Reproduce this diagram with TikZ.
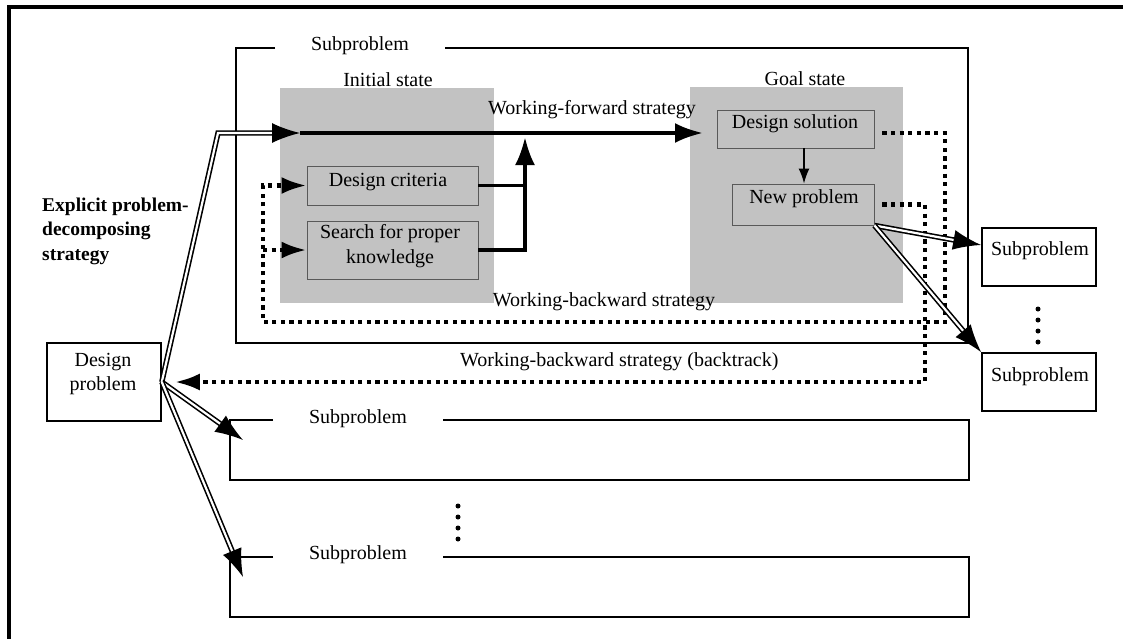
\documentclass[tikz,border=0pt]{standalone}
\usepackage{fontspec}
\setmainfont{Liberation Serif}
\usetikzlibrary{arrows.meta}
\definecolor{stipple}{RGB}{194,194,194}
\begin{document}
\begin{tikzpicture}[x=1pt,y=-1pt,
  txt/.style={inner sep=0pt,font=\fontsize{20}{24.5}\selectfont},
  boldtxt/.style={inner sep=0pt,font=\fontsize{19.5}{24.5}\selectfont\bfseries},
  region/.style={fill=stipple,draw=none,inner sep=0pt},
  whitebox/.style={draw,line width=1.6pt,fill=white,inner sep=0pt},
  graybox/.style={draw=black!65,line width=0.9pt,fill=stipple,inner sep=0pt},
  frameline/.style={line width=1.6pt,line join=miter},
  heavy/.style={line width=3.8pt},
  dbl/.style={double,double distance=2.2pt,line width=1.6pt,line join=miter},
  dotline/.style={line width=4.2pt,dash pattern=on 4.2pt off 4.4pt},
  thinarrow/.style={line width=1.6pt,-{Latex[length=15pt,width=11pt]}},
  bigtip/.tip={Latex[length=28pt,width=20pt]},
  dottip/.tip={Latex[length=25pt,width=17pt]}
]
\useasboundingbox (0,0) rectangle (1123,638);
% outer border
\draw[line width=4pt,line join=miter] (9,640) -- (9,7) -- (1125,7);

% frames
\node[txt] (sp0lbl) at (360,45.5) {Subproblem};
\draw[frameline] (275,48) -- (236,48) -- (236,343) -- (968,343) -- (968,48) -- (445,48);
\node[txt] (sp2lbl) at (358,418.5) {Subproblem};
\draw[frameline] (273,420) -- (230,420) -- (230,480) -- (969,480) -- (969,420) -- (443,420);
\node[txt] (sp3lbl) at (358,555) {Subproblem};
\draw[frameline] (273,557) -- (230,557) -- (230,617) -- (969,617) -- (969,557) -- (443,557);

% gray regions
\node[region,minimum width=214pt,minimum height=215pt] (init) at (387,195.5) {};
\node[txt] (initlbl) at (388,80) {Initial state};
\node[region,minimum width=213pt,minimum height=216pt] (goal) at (796.5,195) {};
\node[txt] (goallbl) at (805,79) {Goal state};

% boxes
\node[graybox,minimum width=171pt,minimum height=39pt] (crit) at (392.5,185.5) {};
\node[txt] (critlbl) at (388,182) {Design criteria};
\node[graybox,minimum width=171pt,minimum height=58pt] (search) at (392.5,250) {};
\node[txt,align=center] (searchlbl) at (390,246) {Search for proper\\knowledge};
\node[graybox,minimum width=157pt,minimum height=38pt] (sol) at (795.5,129) {};
\node[txt] (sollbl) at (795,124) {Design solution};
\node[graybox,minimum width=142pt,minimum height=41pt] (newp) at (803,204.5) {};
\node[txt] (newplbl) at (804,199) {New problem};
\node[whitebox,minimum width=114pt,minimum height=78pt] (dp) at (104,382) {};
\node[txt,align=center] (dplbl) at (103,374) {Design\\problem};
\node[whitebox,minimum width=114pt,minimum height=58pt] (sp1) at (1039,257) {};
\node[txt] (sp1lbl) at (1040,251) {Subproblem};
\node[whitebox,minimum width=114pt,minimum height=58pt] (sp2) at (1039,382) {};
\node[txt] (sp2lbl) at (1040,377) {Subproblem};
\node[boldtxt,align=left,anchor=north west] (expl) at (42,197.5) {Explicit problem-\\decomposing\\strategy};

% dots
\foreach \y in {309,320,331,342} \fill (1038,\y) circle (2.5pt);
\foreach \y in {506,517,528,539} \fill (458,\y) circle (2.5pt);

% coordinates
\coordinate (corner) at (218,133);
\coordinate (fwd) at (300,133);
\coordinate (fwdend) at (703,133);
\coordinate (merge) at (525,137);
\coordinate (mid) at (243,440);
\coordinate (bot) at (243,577);

% dotted backward paths
\draw[dotline,-dottip] ([xshift=8pt,yshift=-4pt]sol.east) -| (945,322) -- (263,322) |- (crit.west);
\draw[dotline,-dottip] (263,250) -- (search.west);
\draw[dotline,-dottip] ([xshift=8pt]newp.east) -| (925,382) -- ([xshift=13pt]dp.east);

% forward
\draw[dbl,-bigtip] (dp.east) -- (corner) -- (fwd);
\draw[heavy,-bigtip] (fwd) -- (fwdend);
\draw[heavy] (crit.east) -- (crit.east -| merge);
\draw[heavy,-bigtip] (search.east) -| (merge);
\draw[thinarrow] ([xshift=8.5pt]sol.south) -- ([xshift=1pt]newp.north);
\draw[dbl,-bigtip] (newp.south east) -- ([yshift=12pt]sp1.west);
\draw[dbl,-bigtip] (newp.south east) -- (sp2.north west);
\draw[dbl,-bigtip] (dp.east) -- (mid);
\draw[dbl,-bigtip] (dp.east) -- (bot);

% strategy labels
\node[txt] (wf) at (592,110) {Working-forward strategy};
\node[txt] (wb) at (604,302) {Working-backward strategy};
\node[txt,anchor=west] (wbb) at (460,362) {Working-backward strategy (backtrack)};
\end{tikzpicture}
\end{document}
